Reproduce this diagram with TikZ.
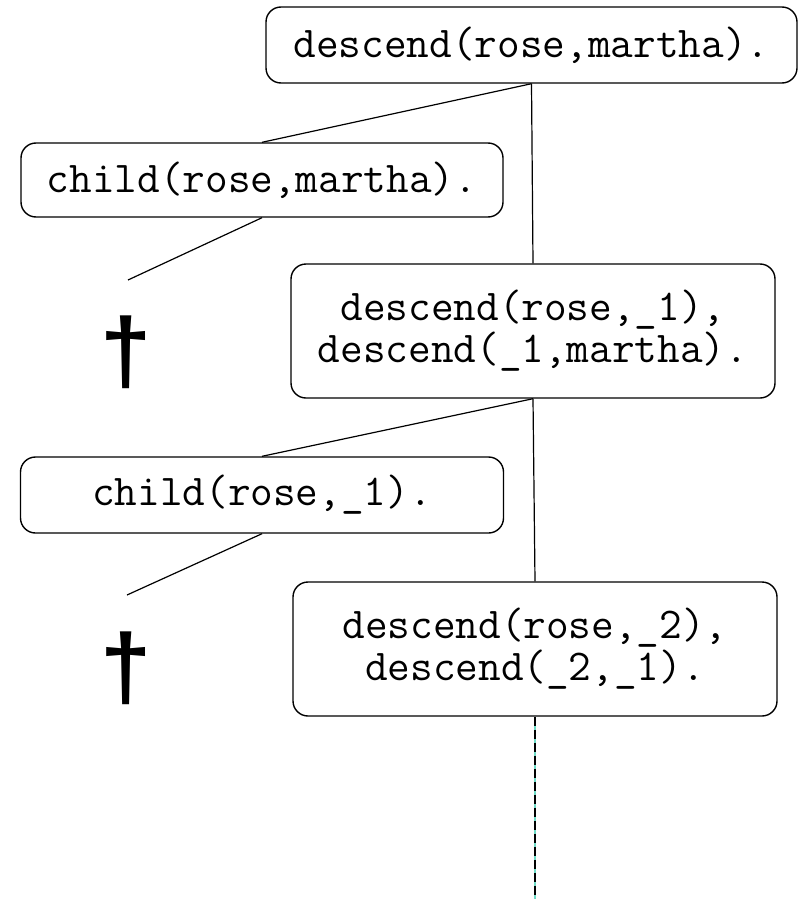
\documentclass[tikz,border=0pt]{standalone}
\usepackage{fontspec}
\newfontfamily\dagfont{Liberation Sans}
\definecolor{dashcyan}{RGB}{110,220,200}
\begin{document}
\begin{tikzpicture}[x=1pt,y=-1pt,
  goal/.style={draw=black, line width=1.4pt, rounded corners=15pt, inner sep=0pt,
    align=center, font=\ttfamily\fontsize{44}{42}\selectfont},
  edge/.style={draw=black, line width=1.2pt},
  dag/.style={inner sep=0pt, font=\dagfont\bfseries\fontsize{92}{92}\selectfont}]
\useasboundingbox (0,0) rectangle (798,899);
\node[goal, minimum width=531pt, minimum height=76pt] (g1) at (531.5,45) {descend(rose,martha).};
\node[goal, minimum width=482pt, minimum height=74pt] (c1) at (262,180) {child(rose,martha).};
\node[goal, minimum width=484pt, minimum height=134pt] (g2) at (533,331) {descend(rose,\textunderscore 1),\\descend(\textunderscore 1,martha).};
\node[goal, minimum width=483pt, minimum height=76pt] (c2) at (262,495) {child(rose,\textunderscore 1).};
\node[goal, minimum width=484pt, minimum height=134pt] (g3) at (535,649) {descend(rose,\textunderscore 2),\\descend(\textunderscore 2,\textunderscore 1).};
\node[dag] (d1) at (126,352) {†};
\node[dag] (d2) at (126,668) {†};
\coordinate (f1) at (128,280);
\coordinate (f2) at (127,595);
\coordinate (e3) at (535,899);
\draw[edge] (g1.south) -- (c1.north);
\draw[edge] (g1.south) -- (g2.north);
\draw[edge] (c1.south) -- (f1);
\draw[edge] (g2.south) -- (c2.north);
\draw[edge] (g2.south) -- (g3.north);
\draw[edge] (c2.south) -- (f2);
\draw[draw=dashcyan, line width=1.2pt] (g3.south) -- (e3);
\draw[edge, dash pattern=on 9pt off 4pt] (g3.south) -- (e3);
\end{tikzpicture}
\end{document}
